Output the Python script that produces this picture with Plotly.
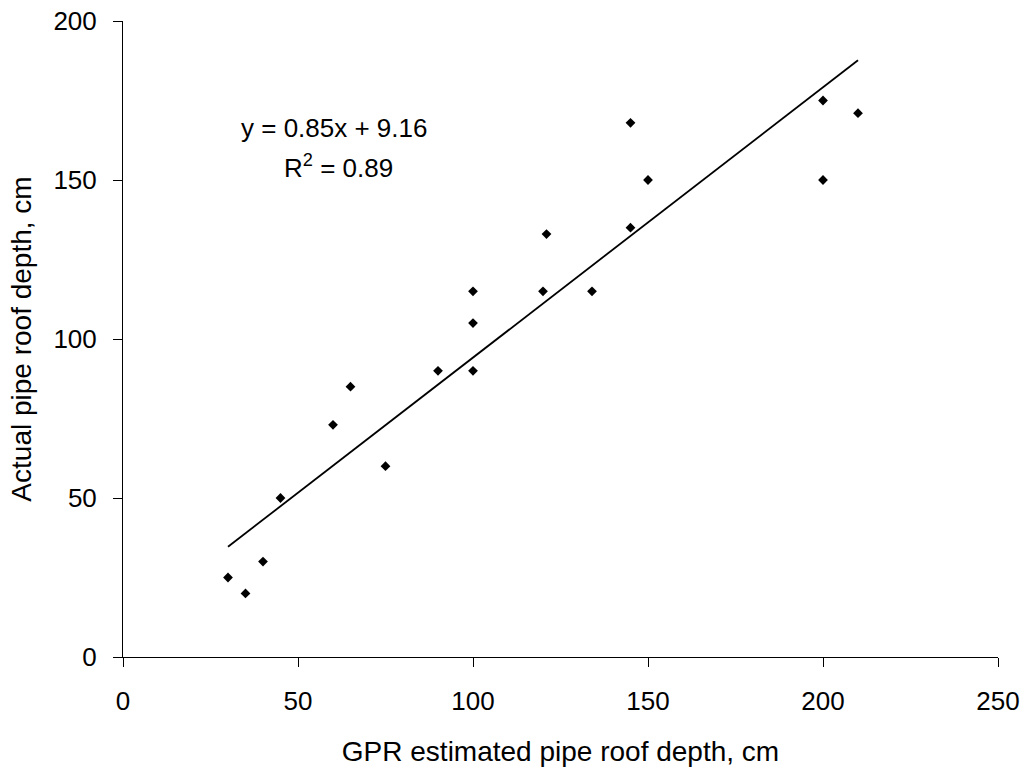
import plotly.graph_objects as go

# Data
gpr_depth = [30, 35, 40, 45, 60, 65, 75, 90, 100, 100, 100, 120, 121, 134, 145, 145, 150, 200, 200, 210]
actual_depth = [25, 20, 30, 50, 73, 85, 60, 90, 115, 105, 90, 115, 133, 115, 168, 135, 150, 175, 150, 171]

# Trendline coefficients as printed on the chart
trend_slope = 0.85
trend_intercept = 9.16
r_squared = 0.89

x_ticks = [0, 50, 100, 150, 200, 250]
y_ticks = [0, 50, 100, 150, 200]

FONT = "Liberation Sans, Arial, sans-serif"

x_min, x_max = min(gpr_depth), max(gpr_depth)
trend_x = [x_min, x_max]
trend_y = [trend_slope * v + trend_intercept for v in trend_x]

fig = go.Figure()
fig.add_trace(go.Scatter(
    x=trend_x, y=trend_y, mode="lines",
    line=dict(color="black", width=1.8),
    showlegend=False, hoverinfo="skip",
))
fig.add_trace(go.Scatter(
    x=gpr_depth, y=actual_depth, mode="markers",
    marker=dict(symbol="diamond", size=7.5, color="black", line=dict(width=0)),
    showlegend=False,
))

fig.add_annotation(
    x=60.3, y=166.5, xref="x", yref="y",
    text=f"y = {trend_slope:.2f}x + {trend_intercept:.2f}",
    showarrow=False, xanchor="center", yanchor="middle",
    font=dict(family=FONT, size=26, color="black"),
)
fig.add_annotation(
    x=61.5, y=154.4, xref="x", yref="y",
    text=f"R<sup>2</sup> = {r_squared:.2f}",
    showarrow=False, xanchor="center", yanchor="middle",
    font=dict(family=FONT, size=26, color="black"),
)

fig.update_layout(
    width=1027, height=776,
    margin=dict(l=123, r=29, t=21, b=119, pad=0, autoexpand=False),
    paper_bgcolor="white", plot_bgcolor="white",
    font=dict(family=FONT, color="black"),
)
fig.update_xaxes(
    range=[0, 250], tickvals=x_ticks, ticktext=[str(v) for v in x_ticks],
    showgrid=False, zeroline=False, automargin=False,
    showline=True, linecolor="black", linewidth=1,
    ticks="outside", ticklen=9, tickcolor="black", tickwidth=1,
    tickfont=dict(family=FONT, size=26, color="black"),
    ticklabelstandoff=12,
    title=dict(text="GPR estimated pipe roof depth, cm",
               font=dict(family=FONT, size=28, color="black"), standoff=26),
)
fig.update_yaxes(
    range=[0, 200], tickvals=y_ticks, ticktext=[str(v) for v in y_ticks],
    showgrid=False, zeroline=False, automargin=False,
    showline=True, linecolor="black", linewidth=1,
    ticks="outside", ticklen=9, tickcolor="black", tickwidth=1,
    tickfont=dict(family=FONT, size=26, color="black"),
    ticklabelstandoff=11,
    title=dict(text="Actual pipe roof depth, cm",
               font=dict(family=FONT, size=28, color="black"), standoff=13),
)

fig.write_html("out.html")
